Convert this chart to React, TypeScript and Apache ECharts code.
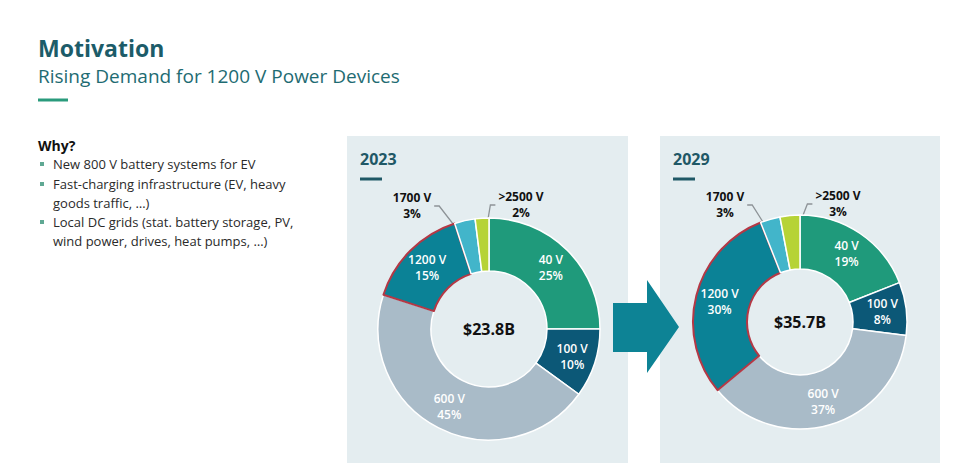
import React, { useEffect, useRef } from 'react';
import * as echarts from 'echarts';

// ---------- data ----------
const categories = ['40 V', '100 V', '600 V', '1200 V', '1700 V', '>2500 V'];
const share2023 = [25, 10, 45, 15, 3, 2];
const share2029 = [19, 8, 37, 30, 3, 3];
const years = ['2023', '2029'];
const marketTotals = ['$23.8B', '$35.7B'];
const highlightCategory = '1200 V';
const outsideCategories = ['1700 V', '>2500 V'];

const slideTitle = 'Motivation';
const slideSubtitle = 'Rising Demand for 1200 V Power Devices';
const whyHeading = 'Why?';
const bulletLines: { text: string; bullet: boolean }[] = [
  { text: 'New 800 V battery systems for EV', bullet: true },
  { text: 'Fast-charging infrastructure (EV, heavy', bullet: true },
  { text: 'goods traffic, …)', bullet: false },
  { text: 'Local DC grids (stat. battery storage, PV,', bullet: true },
  { text: 'wind power, drives, heat pumps, …)', bullet: false },
];

// ---------- styles ----------
const sliceColors = ['#1f9a7b', '#0c5877', '#a9bbc8', '#0b8296', '#42b5ca', '#b6d336'];
const FONT = '"Open Sans", "Noto Sans", sans-serif';
const panelBg = '#e4edf0';
const darkTeal = '#1c5c69';

const panels = [
  { x: 347, y: 136, w: 281, h: 327, cx: 489, cy: 329, r0: 58, r1: 111, labelOffsets: [[-77, -124], [32, -125]] },
  { x: 660, y: 136, w: 280, h: 327, cx: 800, cy: 322, r0: 53, r1: 107, labelOffsets: [[-75, -118], [38, -119]] },
];
const panelShares = [share2023, share2029];

function midAngle(values: number[], idx: number) {
  const total = values.reduce((a, b) => a + b, 0);
  let before = 0;
  for (let i = 0; i < idx; i++) before += values[i];
  return ((before + values[idx] / 2) / total) * Math.PI * 2;
}

function buildSeries(pi: number) {
  const panel = panels[pi];
  const values = panelShares[pi];
  return {
    type: 'pie',
    center: [panel.cx, panel.cy],
    radius: [panel.r0, panel.r1],
    startAngle: 90,
    clockwise: true,
    avoidLabelOverlap: false,
    silent: true,
    itemStyle: { borderColor: '#ffffff', borderWidth: 1.5 },
    label: {
      show: true,
      position: 'inside',
      formatter: '{b}\n{c}%',
      color: '#ffffff',
      fontFamily: FONT,
      fontSize: 12,
      fontWeight: 600,
      lineHeight: 16,
      align: 'center',
    },
    labelLine: { show: false },
    labelLayout: (p: any) => {
      const name = categories[p.dataIndex];
      const k = outsideCategories.indexOf(name);
      if (k < 0) return {};
      const [ox, oy] = panel.labelOffsets[k];
      const lx = panel.cx + ox;
      const ly = panel.cy + oy;
      const w = p.labelRect.width;
      const a = midAngle(values, p.dataIndex);
      const rm = (panel.r0 + panel.r1) / 2;
      const ex = panel.cx + rm * Math.sin(a);
      const ey = panel.cy - rm * Math.cos(a);
      const side = k === 0 ? 1 : -1;
      const sx = lx + side * (w / 2 + 3);
      const sy = ly + 1;
      const mx = sx + side * 5;
      return {
        x: lx,
        y: ly,
        align: 'center',
        verticalAlign: 'middle',
        labelLinePoints: [[sx, sy], [mx, sy], [ex, ey]],
      };
    },
    data: categories.map((name, i) => {
      const item: any = {
        name,
        value: values[i],
        itemStyle: { color: sliceColors[i] },
      };
      if (name === highlightCategory) {
        item.itemStyle = { color: sliceColors[i], borderColor: '#b43845', borderWidth: 2 };
      }
      if (outsideCategories.includes(name)) {
        item.label = { position: 'outside', color: '#111111', fontWeight: 'bold', fontSize: 12, lineHeight: 16 };
        item.labelLine = { show: true, lineStyle: { color: '#8d9397', width: 1.3 } };
      }
      return item;
    }),
  };
}

function buildGraphic() {
  const els: any[] = [];
  // title block
  els.push({ type: 'text', x: 38, y: 48, style: { text: slideTitle, fill: darkTeal, fontFamily: FONT, fontSize: 23, fontWeight: 'bold', textVerticalAlign: 'middle' } });
  els.push({ type: 'text', x: 38, y: 76, style: { text: slideSubtitle, fill: '#1e6b72', fontFamily: FONT, fontSize: 19, textVerticalAlign: 'middle' } });
  els.push({ type: 'rect', shape: { x: 38, y: 98.5, width: 30, height: 3 }, style: { fill: '#2a9b7c' } });
  // bullets
  els.push({ type: 'text', x: 38, y: 145, style: { text: whyHeading, fill: '#111111', fontFamily: FONT, fontSize: 14, fontWeight: 'bold', textVerticalAlign: 'middle' } });
  const lineYs = [164, 184, 203, 222, 241];
  bulletLines.forEach((b, i) => {
    if (b.bullet) {
      els.push({ type: 'rect', shape: { x: 40, y: lineYs[i] - 2, width: 4, height: 4 }, style: { fill: '#5fa893' } });
    }
    els.push({ type: 'text', x: 53, y: lineYs[i], style: { text: b.text, fill: '#2a2a2a', fontFamily: FONT, fontSize: 13, textVerticalAlign: 'middle' } });
  });
  // panels
  panels.forEach((p, i) => {
    els.push({ type: 'rect', shape: { x: p.x, y: p.y, width: p.w, height: p.h }, style: { fill: panelBg } });
    els.push({ type: 'text', x: p.x + 13, y: 159, style: { text: years[i], fill: '#1f5866', fontFamily: FONT, fontSize: 16, fontWeight: 'bold', textVerticalAlign: 'middle' } });
    els.push({ type: 'rect', shape: { x: p.x + 13, y: 177.5, width: 22, height: 3 }, style: { fill: '#1f5866' } });
    els.push({ type: 'text', x: p.cx, y: p.cy, z: 10, style: { text: marketTotals[i], fill: '#111111', fontFamily: FONT, fontSize: 16, fontWeight: 'bold', textAlign: 'center', textVerticalAlign: 'middle' } });
  });
  // arrow
  els.push({
    type: 'polygon',
    shape: { points: [[613, 303], [647, 303], [647, 280], [679, 327], [647, 373], [647, 352], [613, 352]] },
    style: { fill: '#0d8395' },
  });
  return els;
}

export default function App() {
  const ref = useRef<HTMLDivElement>(null);
  useEffect(() => {
    if (!ref.current) return;
    const chart = echarts.init(ref.current, undefined, { renderer: 'svg' });
    chart.setOption({
      animation: false,
      backgroundColor: '#ffffff',
      textStyle: { fontFamily: FONT },
      graphic: buildGraphic(),
      series: [buildSeries(0), buildSeries(1)],
    });
    return () => chart.dispose();
  }, []);
  return (
    <div
      ref={ref}
      style={{ position: 'fixed', left: 0, top: 0, width: 974, height: 469 }}
    />
  );
}
